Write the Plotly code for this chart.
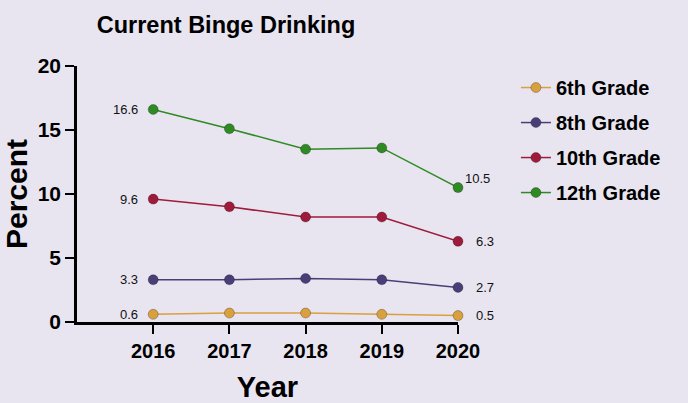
import plotly.graph_objects as go

years = [2016, 2017, 2018, 2019, 2020]
series_names = ["6th Grade", "8th Grade", "10th Grade", "12th Grade"]
grade6 = [0.6, 0.7, 0.7, 0.6, 0.5]
grade8 = [3.3, 3.3, 3.4, 3.3, 2.7]
grade10 = [9.6, 9.0, 8.2, 8.2, 6.3]
grade12 = [16.6, 15.1, 13.5, 13.6, 10.5]
colors = ["#D9A040", "#4A3E78", "#9E1B3C", "#2F8A24"]
y_ticks = [0, 5, 10, 15, 20]

BG = "#E8E5F0"
FONT = "Arial, Liberation Sans, sans-serif"
fig = go.Figure()
annotations = []
for name, vals, col in zip(series_names, [grade6, grade8, grade10, grade12], colors):
    fig.add_trace(go.Scatter(
        x=years, y=vals, name=f"<b>{name}</b>", mode="lines+markers",
        line=dict(color=col, width=1.5),
        marker=dict(color=col, size=10, line=dict(color="rgba(0,0,0,0.25)", width=1)),
        legendgroup=name, cliponaxis=False,
    ))
    annotations.append(dict(x=years[0], y=vals[0], text=f"{vals[0]}", showarrow=False,
                            xanchor="right", yanchor="middle", xshift=-13,
                            font=dict(family=FONT, size=13, color="#111")))
    top = name == "12th Grade"
    annotations.append(dict(x=years[-1], y=vals[-1], text=f"{vals[-1]}", showarrow=False,
                            xanchor="left", yanchor="middle",
                            xshift=5 if top else 16, yshift=9 if top else 0,
                            font=dict(family=FONT, size=13, color="#111")))

fig.update_layout(
    width=688, height=403,
    paper_bgcolor=BG, plot_bgcolor=BG,
    margin=dict(l=77, r=230, t=66, b=81),
    title=dict(text="<b>Current Binge Drinking</b>", x=0.3285, xanchor="center", y=0.938, yanchor="middle",
               font=dict(family=FONT, size=23.5, color="#000")),
    font=dict(family=FONT, color="#000"),
    annotations=annotations,
    xaxis=dict(range=[2015, 2020], tickvals=years, ticktext=[f"<b>{y}</b>" for y in years],
               showgrid=False, zeroline=False, showline=True, linecolor="#000", linewidth=2.5,
               ticks="outside", ticklen=9, tickwidth=2, tickcolor="#000", automargin=False,
               tickfont=dict(family=FONT, size=20),
               title=dict(text="<b>Year</b>", font=dict(family=FONT, size=29), standoff=18)),
    yaxis=dict(range=[0, 20], tickvals=y_ticks, ticktext=[f"<b>{v}</b>" for v in y_ticks],
               showgrid=False, zeroline=False, showline=True, linecolor="#000", linewidth=2.5,
               ticks="outside", ticklen=9, tickwidth=2, tickcolor="#000", automargin=False,
               tickfont=dict(family=FONT, size=21),
               title=dict(text="<b>Percent</b>", font=dict(family=FONT, size=30), standoff=6)),
    legend=dict(x=1.152, y=0.992, xanchor="left", yanchor="top", bgcolor="rgba(0,0,0,0)",
                font=dict(family=FONT, size=20), tracegroupgap=6, traceorder="grouped"),
)
fig.write_html("out.html", config={"displayModeBar": False},
               post_script=f"document.body.style.margin='0';document.body.style.background='{BG}';")
